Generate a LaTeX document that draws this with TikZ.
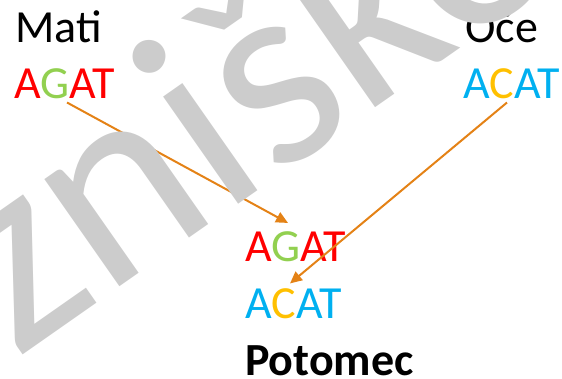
\documentclass[tikz,border=0pt]{standalone}
\usepackage{fontspec}
\setmainfont{Carlito}
\usetikzlibrary{arrows.meta}
\definecolor{dnared}{RGB}{255,0,0}
\definecolor{dnagreen}{RGB}{146,208,80}
\definecolor{dnablue}{RGB}{0,176,240}
\definecolor{dnagold}{RGB}{255,192,0}
\definecolor{inherit}{RGB}{228,130,22}
\definecolor{stampgray}{RGB}{204,204,204}
\begin{document}
\begin{tikzpicture}[x=1pt,y=-1pt,>={Triangle[length=12pt,width=11pt]}]
        \tikzstyle{word}=[anchor=base west,inner sep=0pt,font=\fontsize{46}{50}\selectfont]
        \tikzstyle{pass}=[draw=inherit,line width=2pt,->]
        \tikzstyle{stamp}=[anchor=base west,inner sep=0pt,text=stampgray,font=\fontsize{274}{274}\selectfont]
        \useasboundingbox (0,0) rectangle (562,378);
        % parents
        \node [word] (mati) at (15,42) {Mati};
        \node [word] (oce) at (465,42) {Oče};
        \node [word] (agatL) at (14,98) {\textcolor{dnared}{A}\textcolor{dnagreen}{G}\textcolor{dnared}{AT}};
        \node [word] (acatR) at (463,98) {\textcolor{dnablue}{A}\textcolor{dnagold}{C}\textcolor{dnablue}{AT}};
        % offspring
        \node [word] (agatC) at (245,261) {\textcolor{dnared}{A}\textcolor{dnagreen}{G}\textcolor{dnared}{AT}};
        \node [word] (acatC) at (245,318) {\textcolor{dnablue}{A}\textcolor{dnagold}{C}\textcolor{dnablue}{AT}};
        \node [word,font=\fontsize{46}{50}\selectfont\bfseries] (potomec) at (245,375) {Potomec};
        \draw[pass] ([xshift=53pt,yshift=-4pt]agatL.south west) -- ([xshift=43pt,yshift=8pt]agatC.north west);
        \draw[pass] ([xshift=44pt,yshift=-4pt]acatR.south west) -- ([xshift=45pt,yshift=4.5pt]acatC.north west);
        \begin{scope}
          \clip (0,0) rectangle (562,378);
          \node [stamp,rotate=35] (wm) at (16,360) {zniško};
        \end{scope}
\end{tikzpicture}
\end{document}
